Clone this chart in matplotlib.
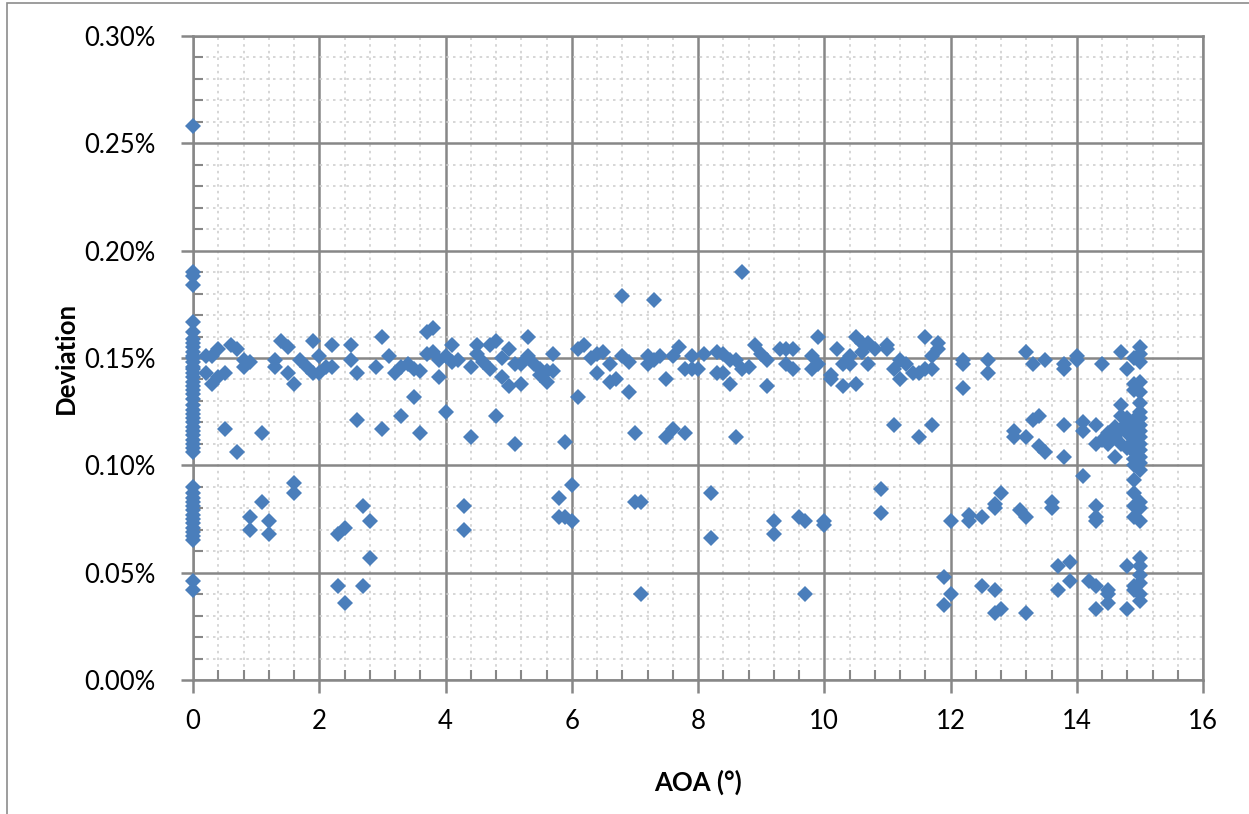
import matplotlib
matplotlib.use("Agg")
import matplotlib.pyplot as plt
from matplotlib.ticker import MultipleLocator, FuncFormatter
from matplotlib.patches import Rectangle

# ---- data (deviation in %) ----
aoa_zero_dev = [0.258, 0.190, 0.188, 0.184, 0.167, 0.162, 0.159, 0.157, 0.155, 0.153,
                0.151, 0.150, 0.148, 0.146, 0.145, 0.143, 0.141, 0.139, 0.137, 0.135,
                0.133, 0.131, 0.128, 0.126, 0.124, 0.122, 0.120, 0.118, 0.116, 0.114,
                0.112, 0.110, 0.108, 0.106, 0.090, 0.087, 0.085, 0.083, 0.081, 0.079,
                0.077, 0.075, 0.073, 0.071, 0.069, 0.067, 0.065, 0.046, 0.042]

aoa = [
    0.2, 0.2, 0.3, 0.3, 0.4, 0.4, 0.5, 0.5, 0.6, 0.7, 0.7, 0.8, 0.8, 0.9, 0.9, 0.9,
    1.1, 1.1, 1.2, 1.2, 1.3, 1.3, 1.4, 1.5, 1.5, 1.6, 1.6, 1.6, 1.7, 1.8, 1.9, 1.9,
    2.0, 2.0, 2.1, 2.2, 2.2, 2.3, 2.3, 2.4, 2.4, 2.5, 2.5, 2.6, 2.6, 2.7, 2.7, 2.8, 2.8, 2.9,
    3.0, 3.0, 3.1, 3.2, 3.3, 3.3, 3.4, 3.5, 3.5, 3.6, 3.6, 3.7, 3.7, 3.8, 3.8, 3.9, 3.9,
    4.0, 4.0, 4.1, 4.1, 4.2, 4.3, 4.3, 4.4, 4.4, 4.5, 4.5, 4.6, 4.7, 4.7, 4.8, 4.8, 4.9, 4.9,
    5.0, 5.0, 5.1, 5.1, 5.2, 5.2, 5.3, 5.3, 5.4, 5.5, 5.5, 5.6, 5.6, 5.7, 5.7, 5.8, 5.8, 5.9, 5.9,
    6.0, 6.0, 6.1, 6.1, 6.2, 6.3, 6.4, 6.4, 6.5, 6.6, 6.6, 6.7, 6.8, 6.8, 6.9, 6.9,
    7.0, 7.0, 7.1, 7.1, 7.2, 7.2, 7.3, 7.3, 7.4, 7.5, 7.5, 7.6, 7.6, 7.7, 7.8, 7.8, 7.9, 7.9,
    8.0, 8.1, 8.2, 8.2, 8.3, 8.3, 8.4, 8.4, 8.5, 8.5, 8.6, 8.6, 8.7, 8.7, 8.8, 8.9,
    9.0, 9.1, 9.1, 9.2, 9.2, 9.3, 9.4, 9.4, 9.5, 9.5, 9.6, 9.7, 9.7, 9.8, 9.8, 9.9, 9.9,
    10.0, 10.0, 10.1, 10.1, 10.2, 10.3, 10.3, 10.4, 10.4, 10.5, 10.5, 10.6, 10.6, 10.7, 10.7,
    10.8, 10.9, 10.9,
    11.0, 11.0, 11.1, 11.1, 11.2, 11.2, 11.3, 11.4, 11.5, 11.5, 11.6, 11.6, 11.7, 11.7, 11.7,
    11.8, 11.8, 11.9, 11.9,
    12.0, 12.0, 12.2, 12.2, 12.2, 12.3, 12.3, 12.5, 12.5, 12.6, 12.6, 12.7, 12.7, 12.7, 12.7,
    12.8, 12.8,
    13.0, 13.0, 13.1, 13.2, 13.2, 13.2, 13.2, 13.3, 13.3, 13.4, 13.4, 13.5, 13.5, 13.6, 13.6,
    13.7, 13.7, 13.8, 13.8, 13.8, 13.8, 13.9, 13.9,
    14.0, 14.0, 14.1, 14.1, 14.1, 14.2, 14.3, 14.3, 14.3, 14.3, 14.3, 14.3, 14.3,
    14.4, 14.4, 14.5, 14.5, 14.5, 14.5, 14.5, 14.6, 14.6, 14.6, 14.6,
    14.7, 14.7, 14.7, 14.7, 14.7, 14.8, 14.8, 14.8, 14.8, 14.8, 14.8, 14.8,
    14.9, 14.9, 14.9, 14.9, 14.9, 14.9, 14.9, 14.9, 14.9, 14.9, 14.9, 14.9, 14.9, 14.9,
    14.9, 14.9, 14.9,
    15.0, 15.0, 15.0, 15.0, 15.0, 15.0, 15.0, 15.0, 15.0, 15.0, 15.0, 15.0, 15.0, 15.0,
    15.0, 15.0, 15.0, 15.0, 15.0, 15.0, 15.0, 15.0, 15.0, 15.0, 15.0,
]

deviation = [
    0.151, 0.143, 0.151, 0.138, 0.154, 0.141, 0.143, 0.117, 0.156, 0.154, 0.106, 0.149, 0.146,
    0.148, 0.076, 0.070,
    0.115, 0.083, 0.074, 0.068, 0.149, 0.146, 0.158, 0.155, 0.143, 0.138, 0.092, 0.087, 0.149,
    0.146, 0.158, 0.143,
    0.151, 0.143, 0.146, 0.156, 0.146, 0.068, 0.044, 0.071, 0.036, 0.156, 0.149, 0.143, 0.121,
    0.081, 0.044, 0.074, 0.057, 0.146,
    0.160, 0.117, 0.151, 0.143, 0.146, 0.123, 0.147, 0.145, 0.132, 0.144, 0.115, 0.162, 0.152,
    0.164, 0.153, 0.149, 0.141,
    0.151, 0.125, 0.156, 0.148, 0.149, 0.081, 0.070, 0.146, 0.113, 0.156, 0.152, 0.148, 0.156,
    0.145, 0.158, 0.123, 0.150, 0.141,
    0.154, 0.137, 0.147, 0.110, 0.147, 0.138, 0.160, 0.151, 0.147, 0.145, 0.142, 0.144, 0.139,
    0.152, 0.144, 0.085, 0.076, 0.111, 0.076,
    0.091, 0.074, 0.154, 0.132, 0.156, 0.150, 0.152, 0.143, 0.153, 0.147, 0.139, 0.140, 0.179,
    0.151, 0.148, 0.134,
    0.115, 0.083, 0.083, 0.040, 0.151, 0.147, 0.177, 0.149, 0.151, 0.140, 0.113, 0.151, 0.117,
    0.155, 0.145, 0.115, 0.151, 0.145,
    0.145, 0.152, 0.087, 0.066, 0.153, 0.143, 0.152, 0.143, 0.149, 0.138, 0.149, 0.113, 0.190,
    0.145, 0.146, 0.156,
    0.152, 0.149, 0.137, 0.074, 0.068, 0.154, 0.154, 0.147, 0.154, 0.145, 0.076, 0.074, 0.040,
    0.151, 0.145, 0.160, 0.147,
    0.074, 0.072, 0.142, 0.140, 0.154, 0.147, 0.137, 0.151, 0.147, 0.160, 0.138, 0.157, 0.153,
    0.157, 0.147,
    0.154, 0.089, 0.078,
    0.156, 0.154, 0.145, 0.119, 0.149, 0.140, 0.147, 0.143, 0.143, 0.113, 0.160, 0.145, 0.151,
    0.145, 0.119,
    0.157, 0.154, 0.048, 0.035,
    0.074, 0.040, 0.149, 0.147, 0.136, 0.077, 0.074, 0.076, 0.044, 0.149, 0.143, 0.082, 0.080,
    0.042, 0.031,
    0.087, 0.033,
    0.116, 0.113, 0.079, 0.153, 0.113, 0.076, 0.031, 0.147, 0.121, 0.123, 0.109, 0.149, 0.106,
    0.083, 0.080,
    0.053, 0.042, 0.147, 0.145, 0.119, 0.104, 0.055, 0.046,
    0.151, 0.149, 0.120, 0.116, 0.095, 0.046, 0.119, 0.110, 0.081, 0.076, 0.074, 0.044, 0.033,
    0.147, 0.112, 0.115, 0.110, 0.042, 0.040, 0.036, 0.118, 0.116, 0.113, 0.104,
    0.153, 0.128, 0.123, 0.117, 0.110, 0.145, 0.122, 0.119, 0.115, 0.108, 0.053, 0.033,
    0.150, 0.138, 0.135, 0.121, 0.118, 0.115, 0.112, 0.109, 0.106, 0.103, 0.100, 0.093, 0.087,
    0.081, 0.076, 0.044, 0.042,
    0.155, 0.152, 0.148, 0.139, 0.134, 0.129, 0.125, 0.122, 0.119, 0.116, 0.113, 0.110, 0.107,
    0.104, 0.101, 0.098, 0.083, 0.080, 0.074, 0.057, 0.053, 0.049, 0.045, 0.040, 0.037,
]

x_label = "AOA (°)"
y_label = "Deviation"

# ---- figure ----
W, H = 1249, 814
fig = plt.figure(figsize=(W / 100, H / 100), dpi=100)
ax = fig.add_axes([193 / W, 1 - 680 / H, (1203 - 193) / W, (680 - 36) / H])

# outer chart border
fig.patches.append(Rectangle((7 / W, -0.05), 1.2, 1 - 3 / H + 0.05,
                             transform=fig.transFigure, fill=False,
                             edgecolor="#8C8C8C", linewidth=1.2))

blue = "#4A7EBB"
all_x = [0.0] * len(aoa_zero_dev) + aoa
all_y = aoa_zero_dev + deviation
ax.plot(all_x, all_y, linestyle="none", marker="D", markersize=8.0,
        color=blue, markeredgewidth=0, clip_on=False, zorder=5)

ax.set_xlim(0, 16)
ax.set_ylim(0, 0.30)
ax.xaxis.set_major_locator(MultipleLocator(2))
ax.xaxis.set_minor_locator(MultipleLocator(0.4))
ax.yaxis.set_major_locator(MultipleLocator(0.05))
ax.yaxis.set_minor_locator(MultipleLocator(0.01))
ax.yaxis.set_major_formatter(FuncFormatter(lambda v, p: f"{v:.2f}%"))
ax.xaxis.set_major_formatter(FuncFormatter(lambda v, p: f"{v:.0f}"))

gcol = "#878787"
ax.grid(which="major", color=gcol, linewidth=1.8, zorder=1)
ax.grid(which="minor", color="#CFCFCF", linewidth=1.2, linestyle=(0, (1.5, 2.5)), zorder=0)
ax.set_axisbelow(True)
for s in ax.spines.values():
    s.set_color(gcol)
    s.set_linewidth(1.8)

font = "Lato"
ax.tick_params(which="major", direction="out", length=9, width=1.8, color=gcol,
               labelsize=18.5, labelcolor="black")
ax.tick_params(which="minor", direction="in", length=7, width=1.5, color=gcol)
ax.tick_params(axis="x", which="major", pad=12)
ax.tick_params(axis="y", which="major", pad=18)
for lab in ax.get_xticklabels() + ax.get_yticklabels():
    lab.set_fontfamily(font)

ax.set_xlabel(x_label, fontsize=18.5, fontweight="bold", fontfamily=font)
ax.set_ylabel(y_label, fontsize=18.5, fontweight="bold", fontfamily=font)
ax.xaxis.set_label_coords((698 - 193) / 1010, -(770 - 680) / 644)
ax.yaxis.set_label_coords(-(193 - 78) / 1010, (680 - 358) / 644)

fig.savefig("out.png", dpi=100)
